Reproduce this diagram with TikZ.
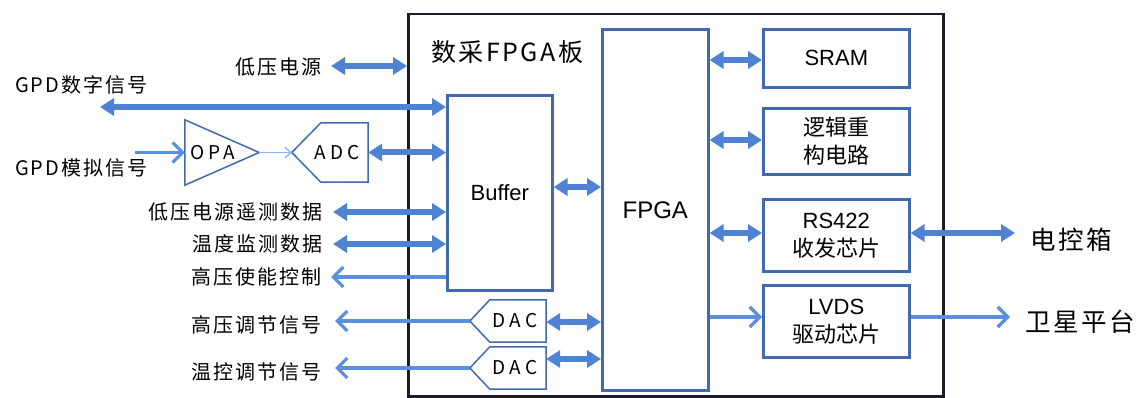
\documentclass[tikz,border=0pt]{standalone}
\usepackage{fontspec}
\setmainfont{Noto Sans CJK SC}
\newfontfamily\lat{Liberation Sans}
\newfontfamily\cjksp[LetterSpace=10]{Noto Sans CJK SC}
\newfontfamily\cjkwide[LetterSpace=22]{Noto Sans CJK SC}
\usetikzlibrary{arrows.meta}
\definecolor{boxblue}{HTML}{4169AE}
\definecolor{arrblue}{HTML}{4F82D2}
\definecolor{thinblue}{HTML}{5A8FE0}
\definecolor{paleblue}{HTML}{8DB5EE}
\definecolor{boardc}{HTML}{1B1B2B}
\newcommand\fsz[2]{\fontsize{#1pt}{#2pt}\selectfont}
\begin{document}
\begin{tikzpicture}[x=1pt,y=-1pt,
  board/.style={draw=boardc,line width=2.5pt,inner sep=0,anchor=north west},
  blk/.style={draw=boxblue,line width=2.6pt,inner sep=0,anchor=north west,align=center},
  ghost/.style={inner sep=0},
  shapeln/.style={draw=boxblue,line width=1.5pt,line join=miter},
  lab/.style={font=\cjksp\fsz{20}{24},inner sep=0},
  big/.style={font=\cjksp\fsz{25.5}{30},inner sep=0},
  chip/.style={font=\cjkwide\fsz{19}{22},inner sep=0},
  fat/.style={draw=arrblue,line width=6pt,{Triangle[width=17pt,length=14pt]}-{Triangle[width=17pt,length=14pt]}},
  thin/.style={draw=thinblue,line width=3.2pt,-{Straight Barb[length=10pt,width=20pt,line width=3.2pt]}},
  pale/.style={draw=paleblue,line width=1.4pt,-{Straight Barb[length=6pt,width=11pt,line width=1.4pt]}}]
\useasboundingbox (0,0) rectangle (1141,398);

% board
\node[board,minimum width=535pt,minimum height=382pt] (bd) at (407,13) {};
\node[font=\cjksp\fsz{25}{30},inner sep=0,anchor=west] (title) at (431,52) {数采FPGA板};

% inner blocks
\node[blk,minimum width=105pt,minimum height=195pt,font=\lat\fsz{22}{26}] (buf) at (446,94) {Buffer};
\node[blk,minimum width=106pt,minimum height=361pt,font=\lat\fsz{24}{28}] (fpga) at (601,28) {FPGA};
\node[blk,minimum width=146pt,minimum height=58pt,font=\lat\fsz{22}{26}] (sram) at (762,28) {SRAM};
\node[blk,minimum width=146pt,minimum height=66pt,font=\fsz{22}{28}] (logic) at (762,107) {逻辑重\\构电路};
\node[blk,minimum width=146pt,minimum height=72pt,font=\fsz{22}{28}] (rs) at (762,198) {{\lat RS422}\\收发芯片};
\node[blk,minimum width=146pt,minimum height=72pt,font=\fsz{22}{28}] (lvds) at (762,284) {{\lat LVDS}\\驱动芯片};

% OPA
\node[ghost,minimum width=74pt,minimum height=65pt] (opa) at (222,152.5) {};
\draw[shapeln] (opa.north west) -- (opa.east) -- (opa.south west) -- cycle;
\node[chip] at (213,153) {OPA};
% ADC
\node[ghost,minimum width=76pt,minimum height=59pt] (adc) at (330,152.5) {};
\draw[shapeln] (adc.west) -- ([xshift=29pt]adc.north west) -- (adc.north east) -- (adc.south east) -- ([xshift=29pt]adc.south west) -- cycle;
\node[chip] at (337,153) {ADC};
% DACs
\node[ghost,minimum width=76pt,minimum height=42pt] (dac1) at (508,321) {};
\draw[shapeln] (dac1.west) -- ([xshift=20pt]dac1.north west) -- (dac1.north east) -- (dac1.south east) -- ([xshift=20pt]dac1.south west) -- cycle;
\node[chip] at (515,321) {DAC};
\node[ghost,minimum width=76pt,minimum height=42pt] (dac2) at (508,368) {};
\draw[shapeln] (dac2.west) -- ([xshift=20pt]dac2.north west) -- (dac2.north east) -- (dac2.south east) -- ([xshift=20pt]dac2.south west) -- cycle;
\node[chip] at (515,368) {DAC};

% left labels
\node[lab,anchor=east] (lv) at (322,67) {低压电源};
\node[lab,anchor=west] (gpdd) at (15,85) {GPD数字信号};
\node[lab,anchor=west] (gpda) at (15,168) {GPD模拟信号};
\node[lab,anchor=east] (tel) at (323,212) {低压电源遥测数据};
\node[lab,anchor=east] (tmp) at (323,244) {温度监测数据};
\node[lab,anchor=east] (hven) at (322,277) {高压使能控制};
\node[lab,anchor=east] (hvadj) at (322,325) {高压调节信号};
\node[lab,anchor=east] (tcadj) at (322,372) {温控调节信号};
% right labels
\node[big,anchor=west] (ecb) at (1030,240) {电控箱};
\node[big,anchor=west] (sat) at (1025,322) {卫星平台};

% free ends and rows
\coordinate (lvL) at (331,66);
\coordinate (gdL) at (100,107);
\coordinate (gaL) at (135,152.5);
\coordinate (telL) at (333,212);
\coordinate (tmpL) at (333,244);
\coordinate (hvenL) at (331,277);
\coordinate (hvadjL) at (335,321);
\coordinate (tcadjL) at (335,368);
\coordinate (ecbR) at (1015,233);
\coordinate (satR) at (1010,317);
\coordinate (r60) at (0,60);
\coordinate (r140) at (0,140);
\coordinate (r187) at (0,187);
\coordinate (r233) at (0,233);
\coordinate (r317) at (0,317);
\coordinate (r322) at (0,322);
\coordinate (r359) at (0,359);

% connectors
\draw[fat] (lvL) -- (bd.west |- lvL);
\draw[fat] (gdL) -- (buf.west |- gdL);
\draw[thin] (gaL) -- (opa.west);
\draw[pale] (opa.east) -- (adc.west);
\draw[fat] (adc.east) -- (buf.west |- adc.east);
\draw[fat] (telL) -- (buf.west |- telL);
\draw[fat] (tmpL) -- (buf.west |- tmpL);
\draw[thin] (buf.west |- hvenL) -- (hvenL);
\draw[thin] (dac1.west) -- (hvadjL);
\draw[thin] (dac2.west) -- (tcadjL);
\draw[fat] (buf.east |- r187) -- (fpga.west |- r187);
\draw[fat] (dac1.east |- r322) -- (fpga.west |- r322);
\draw[fat] (dac2.east |- r359) -- (fpga.west |- r359);
\draw[fat] (fpga.east |- r60) -- (sram.west |- r60);
\draw[fat] (fpga.east |- r140) -- (logic.west |- r140);
\draw[fat] (fpga.east |- r233) -- (rs.west |- r233);
\draw[thin] (fpga.east |- r317) -- (lvds.west |- r317);
\draw[fat] (rs.east |- r233) -- (ecbR);
\draw[thin] (lvds.east |- r317) -- (satR);
\end{tikzpicture}
\end{document}
